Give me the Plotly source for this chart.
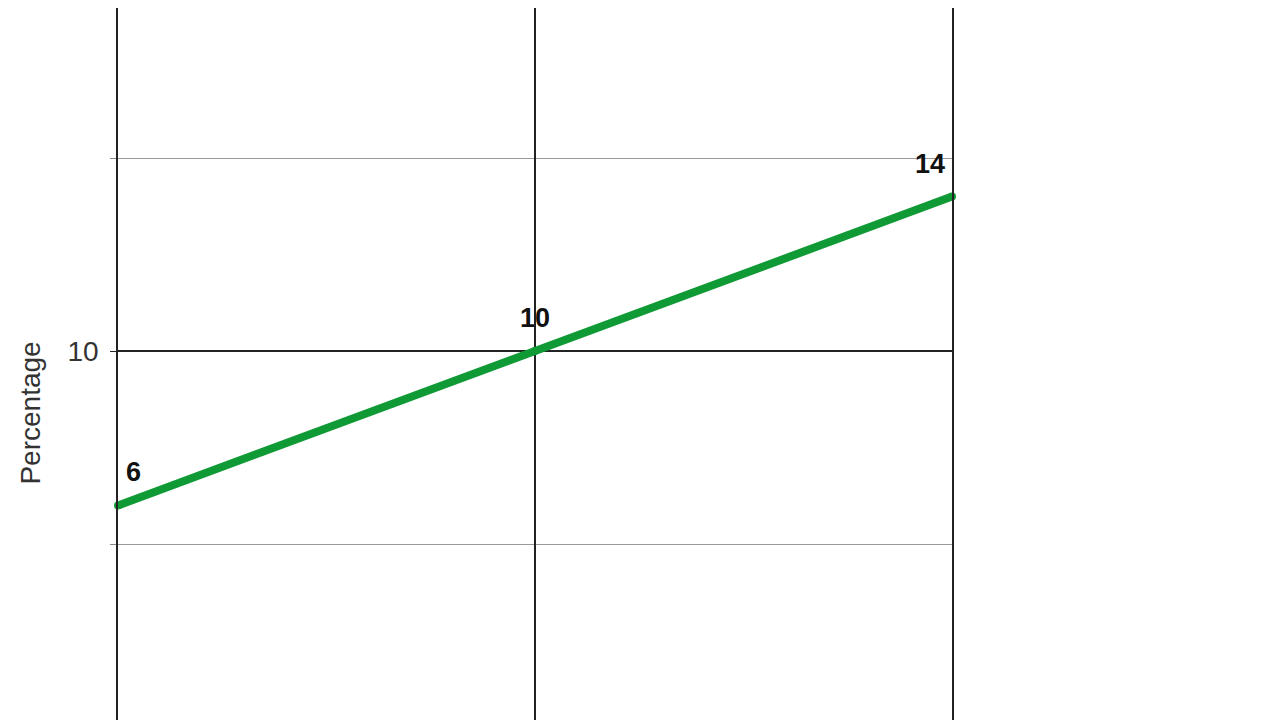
import plotly.graph_objects as go

categories = ["A", "B", "C"]
values = [6, 10, 14]
labels = ["6", "10", "14"]
label_anchor = ["left", "center", "right"]
label_xshift = [6, 0, -5]

fig = go.Figure()
fig.add_trace(
    go.Scatter(
        x=[0, 1, 2],
        y=values,
        mode="lines+markers",
        line=dict(color="#0f9a35", width=8),
        marker=dict(color="#0f9a35", size=8),
        cliponaxis=False,
        showlegend=False,
    )
)

for i, (v, t) in enumerate(zip(values, labels)):
    fig.add_annotation(
        x=i,
        y=v,
        text=t,
        showarrow=False,
        xanchor=label_anchor[i],
        yanchor="bottom",
        xshift=label_xshift[i],
        yshift=16,
        font=dict(family="Liberation Sans, Arial", size=27, color="#111111", weight="bold"),
    )

# y-axis title placed by hand, it sits below the plot middle in the reference
fig.add_annotation(
    xref="paper",
    yref="paper",
    x=-0.127,
    y=0.4375,
    text="Percentage",
    textangle=-90,
    showarrow=False,
    font=dict(family="Liberation Sans, Arial", size=28, color="#333333"),
)

# page body has an 8px margin, so the plot box is shifted to land where the reference has it
fig.update_layout(
    width=1280,
    height=720,
    margin=dict(l=110, r=336, t=0, b=0),
    plot_bgcolor="white",
    paper_bgcolor="white",
    font=dict(family="Liberation Sans, Arial", size=28, color="#333333"),
)

fig.update_xaxes(
    range=[0, 2],
    tickvals=[0, 1, 2],
    ticktext=categories,
    showticklabels=False,
    showgrid=True,
    gridcolor="#222222",
    gridwidth=1.5,
    zeroline=False,
    showline=False,
)

fig.update_yaxes(
    range=[0.233, 18.886],
    tick0=0,
    dtick=10,
    ticks="outside",
    ticklen=6,
    tickcolor="#222222",
    showgrid=True,
    gridcolor="#222222",
    gridwidth=1.5,
    zeroline=False,
    showline=True,
    mirror=True,
    linecolor="#222222",
    linewidth=1.5,
    ticklabelstandoff=6,
    minor=dict(
        tick0=0,
        dtick=5,
        ticks="outside",
        ticklen=6,
        tickcolor="#888888",
        showgrid=True,
        gridcolor="#999999",
        gridwidth=1,
    ),
    tickfont=dict(size=28, color="#333333"),
)

fig.write_html("out.html")
